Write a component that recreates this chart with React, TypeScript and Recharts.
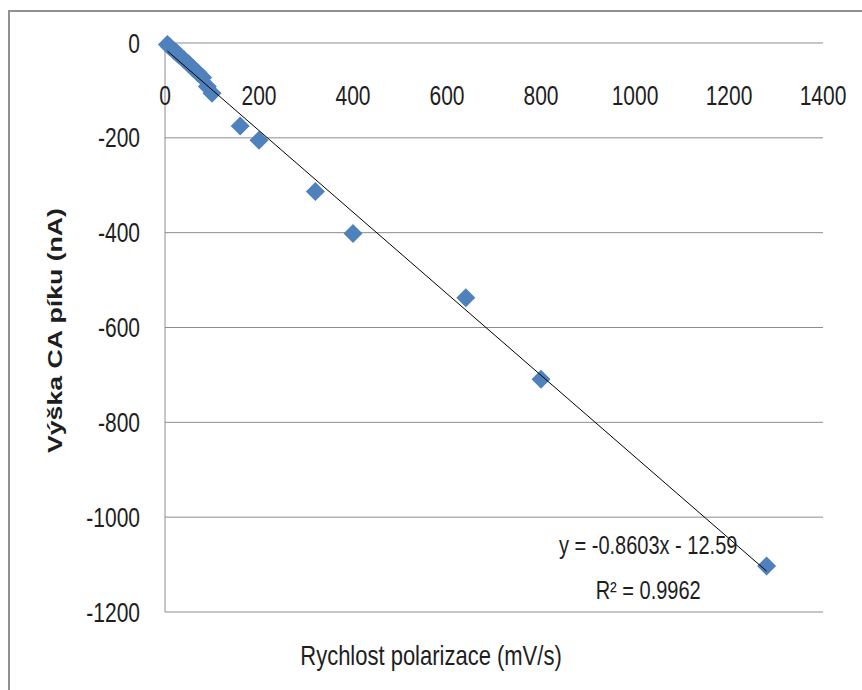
import React from "react";
import { ScatterChart, Scatter, XAxis, YAxis, CartesianGrid, ReferenceDot } from "recharts";

// scan rate (mV/s) and CA peak height (nA)
const scanRates = [5, 10, 20, 25, 30, 40, 50, 60, 70, 80, 90, 100, 160, 200, 320, 400, 640, 800, 1280];
const peakHeights = [-3, -8, -17, -21, -26, -35, -44, -54, -63, -73, -92, -106, -175, -205, -313, -402, -537, -709, -1103];

const xTicks = [0, 200, 400, 600, 800, 1000, 1200, 1400];
const yTicks = [0, -200, -400, -600, -800, -1000, -1200];

// linear trendline shown in the chart
const slope = -0.8603;
const intercept = -12.59;
const rSquared = "0.9962";

const points = scanRates.map((x, i) => ({ x, y: peakHeights[i] }));
const xMin = Math.min(...scanRates);
const xMax = Math.max(...scanRates);
const trend = [
  { x: xMin, y: slope * xMin + intercept },
  { x: xMax, y: slope * xMax + intercept },
];

const FONT = "'Liberation Sans', Arial, sans-serif";
const TEXT = "#1e1e1e";
const GRID = "#8c8c8c";
const STRETCH = 1.28;

const Stretched = (props: any) => {
  const { x, y, anchor = "middle", size = 21, weight = "normal", children } = props;
  return (
    <text
      transform={`translate(${x},${y}) scale(1,${STRETCH})`}
      x={0}
      y={0}
      dy="0.355em"
      textAnchor={anchor}
      fontFamily={FONT}
      fontSize={size}
      fontWeight={weight}
      fill={TEXT}
    >
      {children}
    </text>
  );
};

const XTick = (props: any) => {
  const { x, payload } = props;
  return <Stretched x={x} y={95}>{payload.value}</Stretched>;
};

const YTick = (props: any) => {
  const { x, y, payload } = props;
  return <Stretched x={x} y={y} anchor="end">{payload.value}</Stretched>;
};

const Diamond = (props: any) => {
  const { cx, cy } = props;
  const r = 9.5;
  return (
    <path
      d={`M${cx},${cy - r}L${cx + r},${cy}L${cx},${cy + r}L${cx - r},${cy}Z`}
      fill="#4f81bd"
    />
  );
};

const EquationLabel = (props: any) => {
  const { viewBox } = props;
  const cx = viewBox.cx ?? viewBox.x;
  const cy = viewBox.cy ?? viewBox.y;
  return (
    <g>
      <Stretched x={cx} y={cy - 23} size={20}>
        {`y = ${slope}x - ${Math.abs(intercept)}`}
      </Stretched>
      <Stretched x={cx} y={cy + 22} size={20}>
        {`R² = ${rSquared}`}
      </Stretched>
    </g>
  );
};

const App = () => {
  return (
    <div style={{ position: "absolute", left: 0, top: 0, width: 862, height: 690, background: "#fff" }}>
      <div
        style={{
          position: "absolute",
          left: 8,
          top: 10,
          right: 0,
          bottom: 0,
          borderLeft: "2px solid #909090",
          borderTop: "2px solid #909090",
        }}
      />
      <div style={{ position: "absolute", left: 0, top: 0 }}>
        <ScatterChart width={862} height={690} margin={{ top: 43, right: 39, bottom: 48, left: 0 }}>
          <CartesianGrid vertical={false} stroke={GRID} />
          <XAxis
            type="number"
            dataKey="x"
            domain={[0, 1400]}
            ticks={xTicks}
            axisLine={false}
            tickLine={false}
            tick={<XTick />}
            height={30}
            label={{
              content: () => (
                <text
                  x={431}
                  y={655}
                  dy="0.355em"
                  textAnchor="middle"
                  fontFamily={FONT}
                  fontSize={22}
                  fill={TEXT}
                  transform={`translate(0,${655 - 655 * STRETCH}) scale(1,${STRETCH})`}
                >
                  Rychlost polarizace (mV/s)
                </text>
              ),
            }}
          />
          <YAxis
            type="number"
            dataKey="y"
            domain={[-1200, 0]}
            ticks={yTicks}
            width={165}
            axisLine={{ stroke: GRID }}
            tickLine={false}
            tickSize={0}
            tickMargin={25}
            tick={<YTick />}
            label={{
              content: (p: any) => {
                const vb = p.viewBox;
                const cy = vb.y + vb.height / 2 + 3;
                return (
                  <text
                    transform={`translate(55,${cy}) rotate(-90) scale(1.27,1)`}
                    x={0}
                    y={0}
                    dy="0.355em"
                    textAnchor="middle"
                    fontFamily={FONT}
                    fontSize={21}
                    fontWeight="bold"
                    fill={TEXT}
                  >
                    Výška CA píku (nA)
                  </text>
                );
              },
            }}
          />
          <Scatter data={points} shape={<Diamond />} isAnimationActive={false} />
          <Scatter
            data={trend}
            line={{ stroke: "#000", strokeWidth: 1 }}
            shape={() => <g />}
            isAnimationActive={false}
          />
          <ReferenceDot
            x={1028}
            y={-1106}
            r={0}
            fill="none"
            stroke="none"
            ifOverflow="visible"
            label={{ content: (p: any) => <EquationLabel {...p} /> }}
          />
        </ScatterChart>
      </div>
    </div>
  );
};

export default App;
